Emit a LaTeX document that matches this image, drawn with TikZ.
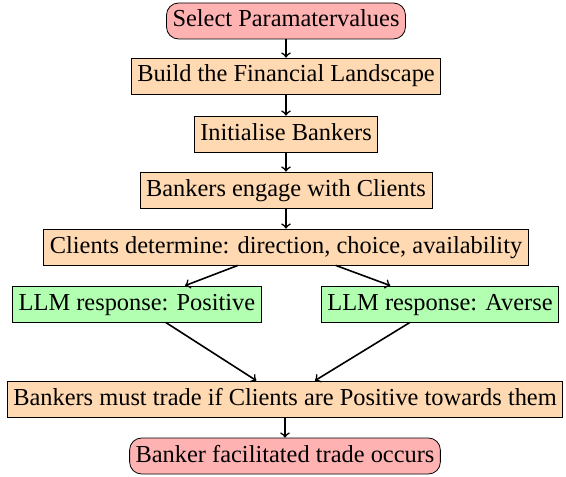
\documentclass[tikz,border=0pt]{standalone}
\usepackage{fontspec}
\setmainfont{Liberation Serif}
\usepackage{xcolor}

\tikzset{
  startstop/.style={rectangle, rounded corners=6pt, draw=black, fill=red!30, text height=9pt, text depth=3pt, inner sep=3pt, font=\fontsize{12.2}{14}\selectfont},
  process/.style={rectangle, draw=black, fill=orange!30, text height=9pt, text depth=3pt, inner sep=3pt, font=\fontsize{12.2}{14}\selectfont},
  response/.style={rectangle, draw=black, fill=green!30, text height=9pt, text depth=3pt, inner sep=3pt, font=\fontsize{12.2}{14}\selectfont},
  flowarrow/.style={thick,->}
}

\begin{document}
\begin{tikzpicture}[x=0.5pt,y=0.5pt,yscale=-1,xscale=1]
\path[use as bounding box] (0,0) rectangle (566,476);

% Start
\node[startstop] (select) at (286,21) {Select Paramatervalues};
% Process
\node[process] (build) at (286,76) {Build the Financial Landscape};
% Process
\node[process] (init) at (286,134) {Initialise Bankers};
% Process
\node[process] (engage) at (286,190) {Bankers engage with Clients};
% Process
\node[process] (clients) at (286,247) {Clients determine: direction, choice, availability};
% Responses
\node[response] (positive) at (137,304) {LLM response: Positive};
\node[response] (averse) at (440,304) {LLM response: Averse};
% Process
\node[process] (trade) at (285,399) {Bankers must trade if Clients are Positive towards them};
% Stop
\node[startstop] (occurs) at (285,456) {Banker facilitated trade occurs};

% Arrows
\draw[flowarrow] (select) -- (build);
\draw[flowarrow] (build) -- (init);
\draw[flowarrow] (init) -- (engage);
\draw[flowarrow] (engage) -- (clients);
\draw[flowarrow] (clients) -- (positive);
\draw[flowarrow] (clients) -- (averse);
\draw[flowarrow] (positive) -- (trade);
\draw[flowarrow] (averse) -- (trade);
\draw[flowarrow] (trade) -- (occurs);

\end{tikzpicture}
\end{document}
